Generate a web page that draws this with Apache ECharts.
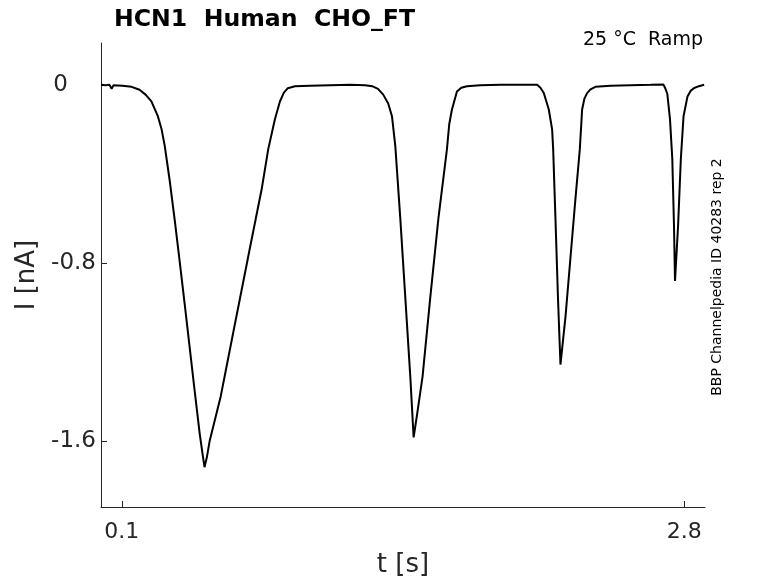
<!DOCTYPE html>
<html>
<head>
<meta charset="utf-8">
<script src="https://cdn.jsdelivr.net/npm/echarts@6/dist/echarts.min.js"></script>
<style>html,body{margin:0;padding:0;background:#fff}#c{width:778px;height:583px}</style>
</head>
<body>
<div id="c"></div>
<script>
// time [s]
const timeValues = [0.000,0.022,0.041,0.051,0.060,0.103,0.147,0.185,0.214,0.242,0.273,0.291,0.306,0.330,0.354,0.378,0.402,0.426,0.450,0.474,0.486,0.497,
  0.508,0.522,0.575,0.642,0.715,0.772,0.803,0.835,0.859,0.878,0.897,0.931,1.003,1.099,1.196,1.268,
  1.302,1.330,1.355,1.379,1.397,1.413,1.437,1.461,1.485,1.501,1.518,1.544,1.581,1.620,1.661,1.672,1.685,1.709,1.730,1.757,1.821,1.918,2.014,2.094,
  2.110,2.126,2.150,2.166,2.171,2.182,2.194,2.206,2.230,2.254,2.278,2.299,2.310,2.321,2.334,2.350,2.374,2.447,2.543,2.639,2.700,
  2.708,2.719,2.732,2.743,2.751,2.756,2.771,2.784,2.797,2.816,2.832,2.848,2.871,2.896];
// current [nA]
const currentValues = [0.002,0.000,0.002,-0.016,0.000,-0.002,-0.007,-0.020,-0.042,-0.072,-0.139,-0.198,-0.272,-0.429,-0.606,-0.793,-0.984,-1.180,-1.375,-1.566,-1.646,-1.716,
  -1.673,-1.597,-1.397,-1.077,-0.731,-0.464,-0.287,-0.153,-0.073,-0.033,-0.013,-0.004,-0.002,0.000,0.002,0.000,
  -0.004,-0.016,-0.042,-0.082,-0.139,-0.272,-0.598,-0.953,-1.308,-1.582,-1.477,-1.308,-0.953,-0.598,-0.287,-0.175,-0.109,-0.028,-0.011,-0.004,0.000,0.002,0.002,0.002,
  -0.011,-0.035,-0.109,-0.198,-0.287,-0.598,-0.953,-1.255,-1.042,-0.775,-0.509,-0.287,-0.109,-0.060,-0.035,-0.018,-0.007,-0.002,0.000,0.002,0.004,
  -0.011,-0.038,-0.153,-0.331,-0.627,-0.879,-0.627,-0.331,-0.139,-0.050,-0.024,-0.012,-0.004,0.002];
const xTicks = [0.1, 2.8];
const yTicks = [0, -0.8, -1.6];
const titleText = 'HCN1  Human  CHO_FT';
const condText = '25 °C  Ramp';
const sideText = 'BBP Channelpedia ID 40283 rep 2';

const data = timeValues.map((t, i) => [t, currentValues[i]]);
const axisColor = '#262626';
const font = 'DejaVu Sans';
const chart = echarts.init(document.getElementById('c'), null, {renderer: 'canvas'});
chart.setOption({
  animation: false,
  backgroundColor: '#fff',
  grid: {left: 101, right: 73, top: 43, bottom: 71, containLabel: false},
  title: {
    text: titleText, left: 109, top: 3,
    textStyle: {fontFamily: font, fontWeight: 'bold', fontSize: 23.6, color: '#000'}
  },
  xAxis: {
    type: 'value', min: 0, max: 2.9,
    name: 't [s]', nameLocation: 'middle', nameGap: 45,
    nameTextStyle: {fontFamily: font, fontSize: 26, color: axisColor},
    axisLine: {show: true, onZero: false, lineStyle: {color: axisColor, width: 1}},
    axisTick: {show: true, inside: true, length: 6, customValues: xTicks, lineStyle: {color: axisColor}},
    axisLabel: {show: true, customValues: xTicks, fontFamily: font, fontSize: 22, color: axisColor, margin: 14,
      formatter: v => String(v)},
    splitLine: {show: false}
  },
  yAxis: {
    type: 'value', min: -1.895, max: 0.19,
    name: 'I [nA]', nameLocation: 'middle', nameGap: 53, nameRotate: 90,
    nameTextStyle: {fontFamily: font, fontSize: 26, color: axisColor},
    axisLine: {show: true, onZero: false, lineStyle: {color: axisColor, width: 1}},
    axisTick: {show: true, inside: true, length: 6, customValues: yTicks, lineStyle: {color: axisColor}},
    axisLabel: {show: true, customValues: yTicks, fontFamily: font, fontSize: 23, color: axisColor, margin: 5,
      formatter: v => (v === 0 ? '{z|0}' : String(v)),
      rich: {z: {fontFamily: font, fontSize: 23, color: axisColor, padding: [0, 28, 0, 0]}}},
    splitLine: {show: false}
  },
  graphic: [
    {type: 'text', right: 75, top: 31, style: {text: condText, font: '19px "DejaVu Sans"', fill: '#000'}},
    {type: 'text', x: 710, y: 277, rotation: Math.PI / 2,
      style: {text: sideText, font: '14px "DejaVu Sans"', fill: '#000', align: 'center', verticalAlign: 'top'}}
  ],
  series: [{
    type: 'line', data: data, showSymbol: false, smooth: false,
    lineStyle: {color: '#000', width: 2}
  }]
});
</script>
</body>
</html>
